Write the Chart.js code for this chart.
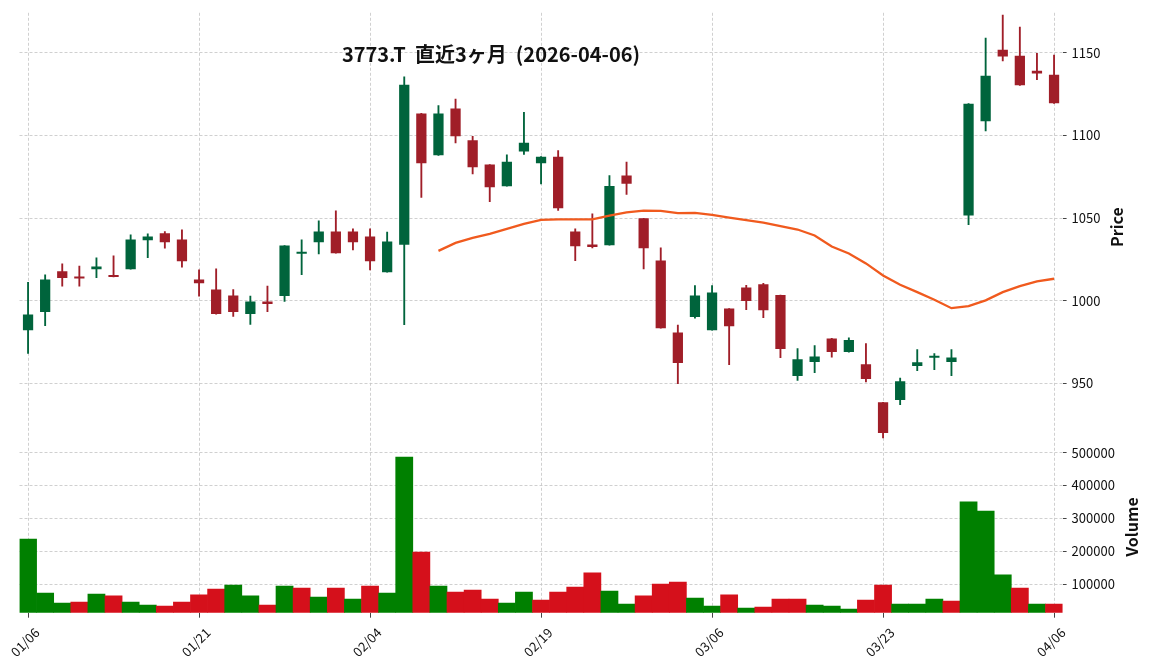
<!DOCTYPE html>
<html>
<head>
<meta charset="utf-8">
<script src="https://cdn.jsdelivr.net/npm/chart.js@4.4.1/dist/chart.umd.min.js"></script>
<style>
html, body { margin: 0; padding: 0; background: #fff; }
#wrap { width: 1152px; height: 670px; position: relative; }
</style>
</head>
<body>
<div id="wrap"><canvas id="chart"></canvas></div>
<script>
const titleText = "3773.T  直近3ヶ月  (2026-04-06)"

const dates = [
	"01/06","01/07","01/08","01/09","01/13","01/14","01/15","01/16","01/19","01/20",
	"01/21","01/22","01/23","01/26","01/27","01/28","01/29","01/30","02/02","02/03",
	"02/04","02/05","02/06","02/09","02/10","02/12","02/13","02/16","02/17","02/18",
	"02/19","02/20","02/24","02/25","02/26","02/27","03/02","03/03","03/04","03/05",
	"03/06","03/09","03/10","03/11","03/12","03/13","03/16","03/17","03/18","03/19",
	"03/23","03/24","03/25","03/26","03/27","03/30","03/31","04/01","04/02","04/03",
	"04/06"
]

const opens = [
	982.2, 993.1, 1017.9, 1014.2, 1019.1, 1014.7, 1019.1, 1036.6, 1040.9, 1037.1,
	1012.9, 1006.8, 1003.2, 991.9, 999.6, 1002.8, 1028.4, 1035.4, 1041.9, 1041.9,
	1038.9, 1017.3, 1033.9, 1113.4, 1088.0, 1116.3, 1097.1, 1082.4, 1069.3, 1090.4,
	1083.2, 1087.2, 1041.9, 1034.0, 1033.6, 1075.8, 1049.9, 1024.4, 980.8, 990.1,
	982.2, 995.3, 1008.0, 1009.9, 1003.4, 954.4, 962.9, 977.2, 968.9, 961.5,
	938.5, 939.9, 960.5, 965.5, 962.9, 1051.6, 1108.6, 1151.9, 1148.3, 1139.2,
	1136.8
]
const highs = [
	1011.2, 1015.7, 1022.4, 1020.9, 1026.0, 1027.2, 1039.9, 1040.5, 1041.9, 1042.9,
	1018.7, 1019.3, 1006.7, 1002.8, 1008.8, 1033.4, 1036.9, 1048.4, 1054.4, 1043.5,
	1043.5, 1041.5, 1135.6, 1113.4, 1118.1, 1122.1, 1099.5, 1082.4, 1088.3, 1114.0,
	1087.2, 1090.9, 1043.5, 1052.6, 1075.8, 1084.0, 1049.9, 1032.0, 985.2, 1009.1,
	1009.1, 995.3, 1009.3, 1010.6, 1003.4, 971.0, 972.8, 977.2, 977.6, 974.0,
	938.5, 953.2, 970.4, 968.0, 970.4, 1119.3, 1159.0, 1172.9, 1165.7, 1149.7,
	1148.7
]
const lows = [
	968.1, 984.9, 1008.8, 1008.8, 1013.9, 1014.4, 1019.1, 1026.0, 1031.8, 1020.3,
	1002.8, 991.9, 990.5, 985.7, 993.4, 999.6, 1015.7, 1028.4, 1028.8, 1030.8,
	1018.7, 1017.3, 985.5, 1062.5, 1088.0, 1095.5, 1076.8, 1059.9, 1069.3, 1088.6,
	1070.7, 1054.6, 1024.2, 1032.0, 1033.6, 1064.3, 1019.3, 983.4, 949.8, 989.5,
	982.2, 961.3, 994.6, 989.7, 965.5, 951.8, 956.5, 965.9, 968.9, 950.8,
	916.9, 937.1, 957.7, 958.3, 954.7, 1046.0, 1102.8, 1145.1, 1130.4, 1133.8,
	1119.5
]
const closes = [
	991.7, 1012.9, 1013.7, 1013.5, 1020.7, 1014.4, 1037.1, 1038.9, 1035.4, 1023.9,
	1010.6, 991.9, 993.1, 999.6, 998.0, 1033.4, 1029.2, 1041.9, 1028.8, 1035.4,
	1023.9, 1035.9, 1130.8, 1083.2, 1113.4, 1099.5, 1080.8, 1068.7, 1084.2, 1095.7,
	1087.2, 1056.0, 1033.0, 1032.5, 1069.5, 1070.8, 1031.8, 983.4, 962.3, 1003.2,
	1005.0, 984.6, 999.8, 994.3, 970.7, 964.5, 966.3, 968.9, 976.2, 952.6,
	920.0, 951.2, 962.7, 966.3, 965.7, 1119.3, 1136.2, 1147.9, 1130.4, 1137.6,
	1119.5
]
const volumes = [
	237000, 73000, 42500, 45600, 70000, 64000, 45600, 36500, 33400, 45600,
	67000, 85000, 97000, 64000, 36500, 94000, 88000, 60800, 88000, 54700,
	94000, 73000, 486000, 197500, 94000, 76000, 82000, 54700, 42500, 76000,
	51700, 76000, 91000, 134000, 79000, 39500, 64000, 100000, 106000, 57700,
	33400, 67000, 27400, 30400, 54700, 54700, 36500, 33400, 24300, 51700,
	97000, 39500, 39500, 54700, 48600, 350000, 322000, 128000, 88000, 39500,
	39500
]
// 25-day moving average
const ma25 = [
	null, null, null, null, null, null, null, null, null, null,
	null, null, null, null, null, null, null, null, null, null,
	null, null, null, null, 1030.2, 1035.0, 1038.0, 1040.5, 1043.5, 1046.5,
	1049.0, 1049.3, 1049.2, 1049.2, 1051.5, 1053.5, 1054.6, 1054.4, 1053.0, 1053.2,
	1052.0, 1050.3, 1048.8, 1047.3, 1045.2, 1043.1, 1039.5, 1032.8, 1028.6, 1022.6,
	1015.3, 1009.7, 1005.2, 1000.6, 995.5, 996.7, 1000.2, 1005.2, 1008.8, 1011.7,
	1013.3
]

const priceTicks = [950, 1000, 1050, 1100, 1150]
const volumeTicks = [100000, 200000, 300000, 400000, 500000]

const font = "'Noto Sans CJK JP', 'Noto Sans', sans-serif"
const upColor = "#00643c"
const downColor = "#a01e28"
const volUp = "#008000"
const volDown = "#d5101b"
const gridColor = "#c4c4c4"

let candleColors = opens.map((o, i) => closes[i] >= o ? upColor : downColor)
let volColors = volumes.map((v, i) => (i === 0 || closes[i] >= closes[i - 1]) ? volUp : volDown)

//titles drawn by hand so they read bottom-to-top like the original
const textPlugin = {
	id: "texts",
	afterDraw(chart) {
		let ctx = chart.ctx
		let yp = chart.scales.y
		let yv = chart.scales.yv
		ctx.save()
		ctx.fillStyle = "#111"
		ctx.textAlign = "center"
		ctx.textBaseline = "alphabetic"
		ctx.font = "bold 20px " + font
		ctx.fillText(titleText, 491, 62)

		ctx.font = "bold 16px " + font
		ctx.textBaseline = "middle"
		ctx.save()
		ctx.translate(1117, (yp.top + yp.bottom) / 2)
		ctx.rotate(-Math.PI / 2)
		ctx.fillText("Price", 0, 0)
		ctx.restore()
		ctx.save()
		ctx.translate(1132, (yv.top + yv.bottom) / 2)
		ctx.rotate(-Math.PI / 2)
		ctx.fillText("Volume", 0, 0)
		ctx.restore()
		ctx.restore()
	}
}

function gridOpts(len) {
	return {
		color: gridColor,
		lineWidth: 0.8,
		tickLength: len,
		tickColor: "#444",
		tickWidth: 1,
		tickBorderDash: []
	}
}

let ctx = document.getElementById("chart").getContext("2d")
let chart = new Chart(ctx, {
	type: "bar",
	data: {
		labels: dates,
		datasets: [
			{
				type: "line",
				label: "MA25",
				data: ma25,
				yAxisID: "y",
				borderColor: "#f05a1e",
				borderWidth: 2.3,
				pointRadius: 0,
				tension: 0,
				order: 0
			},
			{
				label: "body",
				data: opens.map((o, i) => [o, closes[i]]),
				yAxisID: "y",
				backgroundColor: candleColors,
				borderWidth: 0,
				grouped: false,
				barPercentage: 0.6,
				categoryPercentage: 1,
				minBarLength: 2,
				order: 1
			},
			{
				label: "wick",
				data: lows.map((l, i) => [l, highs[i]]),
				yAxisID: "y",
				backgroundColor: candleColors,
				borderWidth: 0,
				grouped: false,
				barThickness: 1.2,
				order: 2
			},
			{
				label: "Volume",
				data: volumes,
				yAxisID: "yv",
				backgroundColor: volColors,
				borderWidth: 0,
				grouped: false,
				barPercentage: 1,
				categoryPercentage: 1,
				order: 3
			}
		]
	},
	options: {
		responsive: true,
		maintainAspectRatio: false,
		animation: false,
		layout: { padding: { left: 19.5, top: 12, right: 0, bottom: 0 } },
		plugins: {
			legend: { display: false },
			tooltip: { enabled: false }
		},
		scales: {
			x: {
				offset: true,
				border: { display: false, dash: [3, 2] },
				grid: Object.assign(gridOpts(5), { offset: false }),
				ticks: {
					autoSkip: false,
					minRotation: 45,
					maxRotation: 45,
					labelOffset: 9,
					padding: 7,
					color: "#111",
					font: { family: font, size: 13 }
				},
				afterBuildTicks: scale => {
					scale.ticks = scale.ticks.filter(t => t.value % 10 === 0)
				},
				afterFit: scale => {
					scale.height = 57.3
					scale.paddingLeft = 0
					scale.paddingRight = 0
				}
			},
			y: {
				type: "linear",
				position: "right",
				stack: "panels",
				stackWeight: 5,
				min: 914.9,
				max: 1174.3,
				border: { display: false, dash: [3, 2] },
				grid: gridOpts(4),
				ticks: {
					padding: 5,
					color: "#111",
					font: { family: font, size: 13 },
					callback: v => String(v)
				},
				afterBuildTicks: scale => {
					scale.ticks = priceTicks.map(v => ({ value: v }))
				},
				afterFit: scale => { scale.width = 89.4 }
			},
			yv: {
				type: "linear",
				position: "right",
				stack: "panels",
				stackWeight: 2,
				min: 13000,
				max: 534300,
				border: { display: false, dash: [3, 2] },
				grid: gridOpts(4),
				ticks: {
					padding: 5,
					color: "#111",
					font: { family: font, size: 13 },
					callback: v => String(v)
				},
				afterBuildTicks: scale => {
					scale.ticks = volumeTicks.map(v => ({ value: v }))
				},
				afterFit: scale => { scale.width = 89.4 }
			}
		}
	},
	plugins: [textPlugin]
})
</script>
</body>
</html>
